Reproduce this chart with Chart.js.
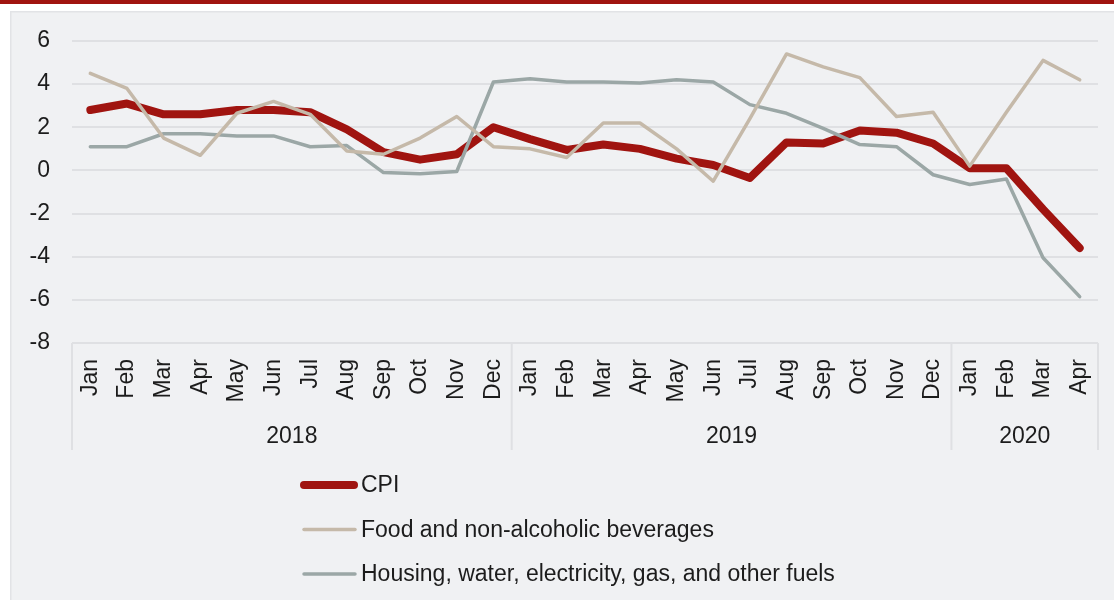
<!DOCTYPE html>
<html>
<head>
<meta charset="utf-8">
<script src="https://cdn.jsdelivr.net/npm/chart.js@4.4.1/dist/chart.umd.min.js"></script>
<style>
  html, body { margin: 0; padding: 0; background: #ffffff; }
  #wrap { width: 1114px; height: 600px; }
</style>
</head>
<body>
<div id="wrap"><canvas id="c" width="1114" height="600"></canvas></div>
<script>
// ---- Data ----
const months = ["Jan","Feb","Mar","Apr","May","Jun","Jul","Aug","Sep","Oct","Nov","Dec",
                "Jan","Feb","Mar","Apr","May","Jun","Jul","Aug","Sep","Oct","Nov","Dec",
                "Jan","Feb","Mar","Apr"];
const years = ["2018","2019","2020"];
const yearCounts = [12, 12, 4];
const yTicks = [6, 4, 2, 0, -2, -4, -6, -8];

const cpi = [2.8,3.1,2.6,2.6,2.8,2.8,2.7,1.9,0.85,0.5,0.75,2.0,
             1.45,0.95,1.2,1.0,0.55,0.25,-0.35,1.3,1.25,1.85,1.75,1.25,
             0.1,0.1,-1.8,-3.6];
const food = [4.5,3.8,1.5,0.7,2.65,3.2,2.6,0.9,0.75,1.5,2.5,1.1,
              1.0,0.6,2.2,2.2,1.0,-0.5,2.4,5.4,4.8,4.3,2.5,2.7,
              0.2,2.7,5.1,4.2];
const housing = [1.1,1.1,1.7,1.7,1.6,1.6,1.1,1.15,-0.1,-0.15,-0.05,4.1,
                 4.25,4.1,4.1,4.05,4.2,4.1,3.05,2.65,1.95,1.2,1.1,-0.2,
                 -0.65,-0.4,-4.05,-5.85];
const seriesNames = ["CPI","Food and non-alcoholic beverages","Housing, water, electricity, gas, and other fuels"];

// ---- Style ----
const FONT = "'Liberation Sans', Arial, Helvetica, sans-serif";
const TEXT = "#1c1c1c";
const GRID = "#dfe0e3";
const PANEL = "#f0f1f3";
const RED = "#a01410";
Chart.defaults.font.family = FONT;
Chart.defaults.font.size = 23;
Chart.defaults.color = TEXT;

const bgPlugin = {
  id: 'bg',
  beforeDraw(chart) {
    const ctx = chart.ctx;
    ctx.save();
    ctx.fillStyle = "#ffffff";
    ctx.fillRect(0, 0, chart.width, chart.height);
    ctx.fillStyle = PANEL;
    ctx.fillRect(10, 11, chart.width - 10, chart.height - 11);
    ctx.strokeStyle = "#e2e3e6";
    ctx.lineWidth = 1.5;
    ctx.strokeRect(10.75, 11.75, chart.width, chart.height);
    ctx.fillStyle = RED;
    ctx.fillRect(0, 0, chart.width, 4);
    ctx.restore();
  }
};

const groupPlugin = {
  id: 'groups',
  afterDraw(chart) {
    const ctx = chart.ctx;
    const xs = chart.scales.x;
    const area = chart.chartArea;
    const half = (xs.getPixelForValue(1) - xs.getPixelForValue(0)) / 2;
    const top = area.bottom;
    const bottom = 450;
    ctx.save();
    ctx.strokeStyle = GRID;
    ctx.lineWidth = 2;
    let start = 0;
    const edges = [xs.getPixelForValue(0) - half];
    yearCounts.forEach((n) => { start += n; edges.push(xs.getPixelForValue(start - 1) + half); });
    edges.forEach((x) => {
      ctx.beginPath();
      ctx.moveTo(x, top);
      ctx.lineTo(x, bottom);
      ctx.stroke();
    });
    ctx.fillStyle = TEXT;
    ctx.font = "23px " + FONT;
    ctx.textAlign = "center";
    ctx.textBaseline = "middle";
    years.forEach((y, i) => {
      ctx.fillText(y, (edges[i] + edges[i + 1]) / 2, 437);
    });
    // legend
    ctx.textAlign = "left";
    chart.data.datasets.forEach((ds, i) => {
      const ly = 485 + i * 44.5;
      ctx.strokeStyle = ds.borderColor;
      ctx.lineWidth = ds.borderWidth;
      ctx.lineCap = "round";
      ctx.beginPath();
      ctx.moveTo(304, ly);
      ctx.lineTo(i === 0 ? 354 : 355, ly);
      ctx.stroke();
      ctx.fillStyle = TEXT;
      ctx.fillText(ds.label, 361, ly + 1);
    });
    ctx.restore();
  }
};

new Chart(document.getElementById('c'), {
  type: 'line',
  data: {
    labels: months,
    datasets: [
      { label: seriesNames[0], data: cpi, borderColor: RED, borderWidth: 8, order: 2 },
      { label: seriesNames[1], data: food, borderColor: "#c5b9a9", borderWidth: 3.5, order: 0 },
      { label: seriesNames[2], data: housing, borderColor: "#9ba7a6", borderWidth: 3.5, order: 1 }
    ]
  },
  options: {
    responsive: false,
    animation: false,
    devicePixelRatio: 1,
    layout: { padding: { left: 10, right: 16, top: 41, bottom: 150 } },
    elements: {
      point: { radius: 0, hoverRadius: 0 },
      line: { tension: 0, borderCapStyle: 'round', borderJoinStyle: 'round', fill: false }
    },
    plugins: { legend: { display: false }, tooltip: { enabled: false } },
    scales: {
      x: {
        type: 'category',
        offset: true,
        grid: { display: false, drawTicks: false },
        border: { display: false },
        ticks: { autoSkip: false, minRotation: 90, maxRotation: 90, padding: 16, font: { size: 23 } },
        afterFit(s) { s.height = 107; s.paddingLeft = 0; s.paddingRight = 0; }
      },
      y: {
        min: -8, max: 6,
        afterBuildTicks(s) { s.ticks = yTicks.map(v => ({ value: v })); },
        grid: { color: GRID, lineWidth: 2, drawTicks: false },
        border: { display: false },
        ticks: { padding: 22, font: { size: 23 } },
        afterFit(s) { s.width = 62; s.paddingTop = 0; s.paddingBottom = 0; }
      }
    }
  },
  plugins: [bgPlugin, groupPlugin]
});
</script>
</body>
</html>
